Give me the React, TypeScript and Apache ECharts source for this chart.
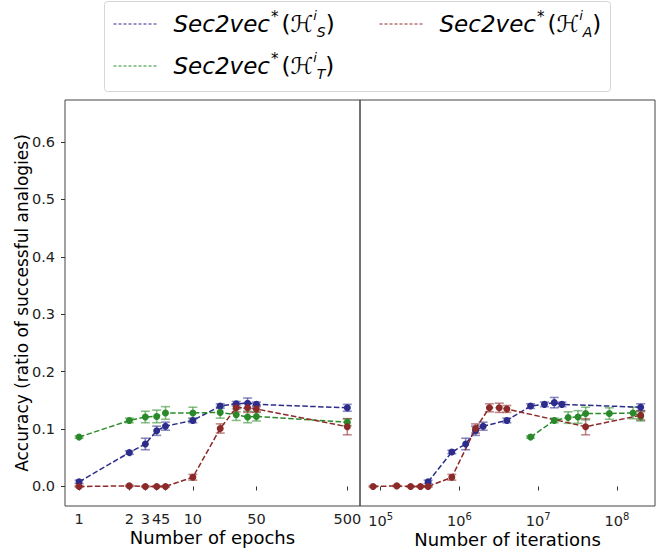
import React, { useEffect, useRef } from 'react';
import * as echarts from 'echarts';

// ---- data ----
// left panel: epochs (the reference places epoch "1" at ~0.56 on its log scale)
const epochX = [0.56, 2, 3, 4, 5, 10, 20, 30, 40, 50, 500];
const epochTicks = [0.56, 2, 3, 4, 5, 10, 50, 500];
const epochTickLabels = ['1', '2', '3', '4', '5', '10', '50', '500'];

const accS = [0.008, 0.059, 0.074, 0.097, 0.105, 0.115, 0.140, 0.144, 0.145, 0.143, 0.137];
const errS = [0.003, 0.003, 0.010, 0.008, 0.007, 0.004, 0.004, 0.004, 0.009, 0.004, 0.006];
const accT = [0.086, 0.115, 0.121, 0.122, 0.128, 0.128, 0.129, 0.125, 0.121, 0.122, 0.112];
const errT = [0.002, 0.004, 0.010, 0.011, 0.011, 0.010, 0.010, 0.010, 0.010, 0.008, 0.006];
const accA = [0.0, 0.001, 0.0, 0.0, 0.0, 0.016, 0.101, 0.137, 0.137, 0.135, 0.104];
const errA = [0.001, 0.001, 0.001, 0.001, 0.001, 0.005, 0.008, 0.007, 0.008, 0.006, 0.014];

// right panel: iterations
const iterTicks = [1e5, 1e6, 1e7, 1e8];
const iterS = [4e5, 8e5, 1.2e6, 1.6e6, 2e6, 4e6, 8e6, 1.2e7, 1.6e7, 2e7, 2e8];
const accSIter = [0.008, 0.060, 0.074, 0.097, 0.105, 0.115, 0.140, 0.143, 0.146, 0.143, 0.138];
const errSIter = [0.003, 0.003, 0.010, 0.008, 0.007, 0.004, 0.004, 0.004, 0.009, 0.004, 0.006];
const iterT = [8e6, 1.6e7, 2.4e7, 3.2e7, 4e7, 8e7, 1.6e8, 2e8];
const accTIter = [0.086, 0.115, 0.120, 0.121, 0.127, 0.127, 0.128, 0.122];
const errTIter = [0.002, 0.004, 0.010, 0.011, 0.011, 0.010, 0.010, 0.008];
const iterA = [8e4, 1.6e5, 2.4e5, 3.2e5, 4e5, 8e5, 1.6e6, 2.4e6, 3.2e6, 4e6, 4e7, 2e8];
const accAIter = [0.0, 0.001, 0.0, 0.0, 0.0, 0.016, 0.101, 0.137, 0.137, 0.135, 0.104, 0.124];
const errAIter = [0.001, 0.001, 0.001, 0.001, 0.001, 0.005, 0.008, 0.007, 0.008, 0.006, 0.014, 0.008];

const yTicks = [0, 0.1, 0.2, 0.3, 0.4, 0.5, 0.6];

const colors: Record<string, string> = { S: '#2c2c8c', T: '#2a8a2a', A: '#8c2a2a' };

const FONT = 'DejaVu Sans';

function errSeries(name: string, xs: number[], ys: number[], es: number[], idx: number) {
  const color = colors[name];
  return {
    type: 'custom',
    name: name + '-err',
    xAxisIndex: idx,
    yAxisIndex: idx,
    encode: { x: 0, y: 1 },
    data: xs.map((x, i) => [x, ys[i], es[i]]),
    z: 2,
    renderItem: (params: any, api: any) => {
      const x = api.value(0);
      const y = api.value(1);
      const e = api.value(2);
      const lo = api.coord([x, y - e]);
      const hi = api.coord([x, y + e]);
      const w = 4.5;
      const st = { stroke: color, lineWidth: 1.6, opacity: 0.55 };
      return {
        type: 'group',
        children: [
          { type: 'line', shape: { x1: lo[0], y1: lo[1], x2: hi[0], y2: hi[1] }, style: st },
          { type: 'line', shape: { x1: lo[0] - w, y1: lo[1], x2: lo[0] + w, y2: lo[1] }, style: st },
          { type: 'line', shape: { x1: hi[0] - w, y1: hi[1], x2: hi[0] + w, y2: hi[1] }, style: st },
        ],
      };
    },
  };
}

function lineSeries(name: string, xs: number[], ys: number[], idx: number) {
  const color = colors[name];
  return {
    type: 'line',
    name,
    xAxisIndex: idx,
    yAxisIndex: idx,
    data: xs.map((x, i) => [x, ys[i]]),
    symbol: 'circle',
    symbolSize: 7,
    z: 3,
    itemStyle: { color },
    lineStyle: { color, width: 1.5, type: [5.5, 2.4] },
  };
}

const legendLabel = (name: string) =>
  `{m|Sec2vec}{st|*}{p|(}{h|ℋ}{sup|i}{sub|${name}}{p|)}`;

const legendRich = {
  m: { fontFamily: FONT, fontStyle: 'italic', fontSize: 23, lineHeight: 30, color: '#000', padding: [0, 0, 0, 10] },
  st: { fontFamily: FONT, fontSize: 15, lineHeight: 18, verticalAlign: 'top', color: '#000', padding: [0, 3, 0, 1] },
  p: { fontFamily: FONT, fontSize: 23, lineHeight: 30, color: '#000' },
  h: { fontFamily: FONT, fontStyle: 'italic', fontSize: 23, lineHeight: 30, color: '#000' },
  sup: { fontFamily: FONT, fontStyle: 'italic', fontSize: 13, lineHeight: 15, verticalAlign: 'top', color: '#000' },
  sub: { fontFamily: FONT, fontStyle: 'italic', fontSize: 14, lineHeight: 14, verticalAlign: 'bottom', color: '#000' },
};

const legendCommon = {
  orient: 'vertical',
  top: 4,
  itemWidth: 45,
  itemHeight: 14,
  itemGap: 12,
  formatter: legendLabel,
  textStyle: { rich: legendRich },
  itemStyle: { opacity: 0, borderWidth: 0 },
  lineStyle: { width: 1, type: [3, 2] },
  selectedMode: false,
};

export default function App() {
  const ref = useRef<HTMLDivElement>(null);
  useEffect(() => {
    if (!ref.current) return;
    const chart = echarts.init(ref.current, undefined, { renderer: 'svg' });
    const axisText = { fontFamily: FONT, fontSize: 14.5, color: '#222' };
    const nameText = { fontFamily: FONT, fontSize: 17, color: '#000' };
    const xNameText = { fontFamily: FONT, fontSize: 18, color: '#000' };
    const tick = { show: true, length: 4, lineStyle: { color: '#333', width: 1 } };
    chart.setOption({
      animation: false,
      backgroundColor: '#fff',
      grid: [
        { left: 65, right: 307, top: 100, bottom: 48, show: true, borderColor: '#444', borderWidth: 1, backgroundColor: 'transparent', outerBoundsMode: 'none', containLabel: false },
        { left: 360, right: 12, top: 100, bottom: 48, show: true, borderColor: '#444', borderWidth: 1, backgroundColor: 'transparent', outerBoundsMode: 'none', containLabel: false },
      ],
      legend: [
        { ...legendCommon, left: 108, data: ['S', 'T'] },
        { ...legendCommon, left: 374, data: ['A'] },
      ],
      graphic: [
        {
          type: 'rect',
          shape: { x: 104.5, y: 1.5, width: 506, height: 90, r: 3 },
          style: { fill: 'rgba(255,255,255,0)', stroke: '#d6d6d6', lineWidth: 1 },
          z: -1,
        },
      ],
      xAxis: [
        {
          type: 'log',
          gridIndex: 0,
          min: 0.392,
          max: 690,
          name: 'Number of epochs',
          nameLocation: 'middle',
          nameGap: 22,
          nameMoveOverlap: false,
          nameTextStyle: xNameText,
          axisLine: { show: false },
          splitLine: { show: false },
          minorTick: { show: false },
          axisTick: { ...tick, customValues: epochTicks },
          axisLabel: {
            ...axisText,
            margin: 5,
            lineHeight: 15,
            customValues: epochTicks,
            formatter: (v: number) => {
              const i = epochTicks.findIndex((t) => Math.abs(t - v) / t < 0.01);
              return i >= 0 ? epochTickLabels[i] : '';
            },
          },
        },
        {
          type: 'log',
          gridIndex: 1,
          min: 54600,
          max: 3.04e8,
          name: 'Number of iterations',
          nameLocation: 'middle',
          nameGap: 24,
          nameMoveOverlap: false,
          nameTextStyle: xNameText,
          axisLine: { show: false },
          splitLine: { show: false },
          minorTick: { show: false },
          axisTick: { ...tick, customValues: iterTicks },
          axisLabel: {
            ...axisText,
            margin: 5,
            customValues: iterTicks,
            formatter: (v: number) => `{b|10}{s|${Math.round(Math.log10(v))}}`,
            rich: {
              b: { fontFamily: FONT, fontSize: 14.5, color: '#222', lineHeight: 17, verticalAlign: 'bottom' },
              s: { fontFamily: FONT, fontSize: 10, color: '#222', lineHeight: 10, verticalAlign: 'top' },
            },
          },
        },
      ],
      yAxis: [
        {
          type: 'value',
          gridIndex: 0,
          min: -0.034,
          max: 0.673,
          name: 'Accuracy (ratio of successful analogies)',
          nameLocation: 'middle',
          nameGap: 35,
          nameMoveOverlap: false,
          nameTextStyle: nameText,
          axisLine: { show: false },
          splitLine: { show: false },
          axisTick: { ...tick, customValues: yTicks },
          axisLabel: {
            ...axisText,
            margin: 10,
            customValues: yTicks,
            formatter: (v: number) => v.toFixed(1),
          },
        },
        {
          type: 'value',
          gridIndex: 1,
          min: -0.034,
          max: 0.673,
          axisLine: { show: false },
          splitLine: { show: false },
          axisTick: { show: false },
          axisLabel: { show: false },
        },
      ],
      series: [
        errSeries('S', epochX, accS, errS, 0),
        lineSeries('S', epochX, accS, 0),
        errSeries('T', epochX, accT, errT, 0),
        lineSeries('T', epochX, accT, 0),
        errSeries('A', epochX, accA, errA, 0),
        lineSeries('A', epochX, accA, 0),
        errSeries('S', iterS, accSIter, errSIter, 1),
        lineSeries('S', iterS, accSIter, 1),
        errSeries('T', iterT, accTIter, errTIter, 1),
        lineSeries('T', iterT, accTIter, 1),
        errSeries('A', iterA, accAIter, errAIter, 1),
        lineSeries('A', iterA, accAIter, 1),
      ],
    });
    return () => chart.dispose();
  }, []);
  return (
    <div
      ref={ref}
      style={{ position: 'fixed', left: 0, top: 0, width: 667, height: 554, background: '#fff' }}
    />
  );
}
